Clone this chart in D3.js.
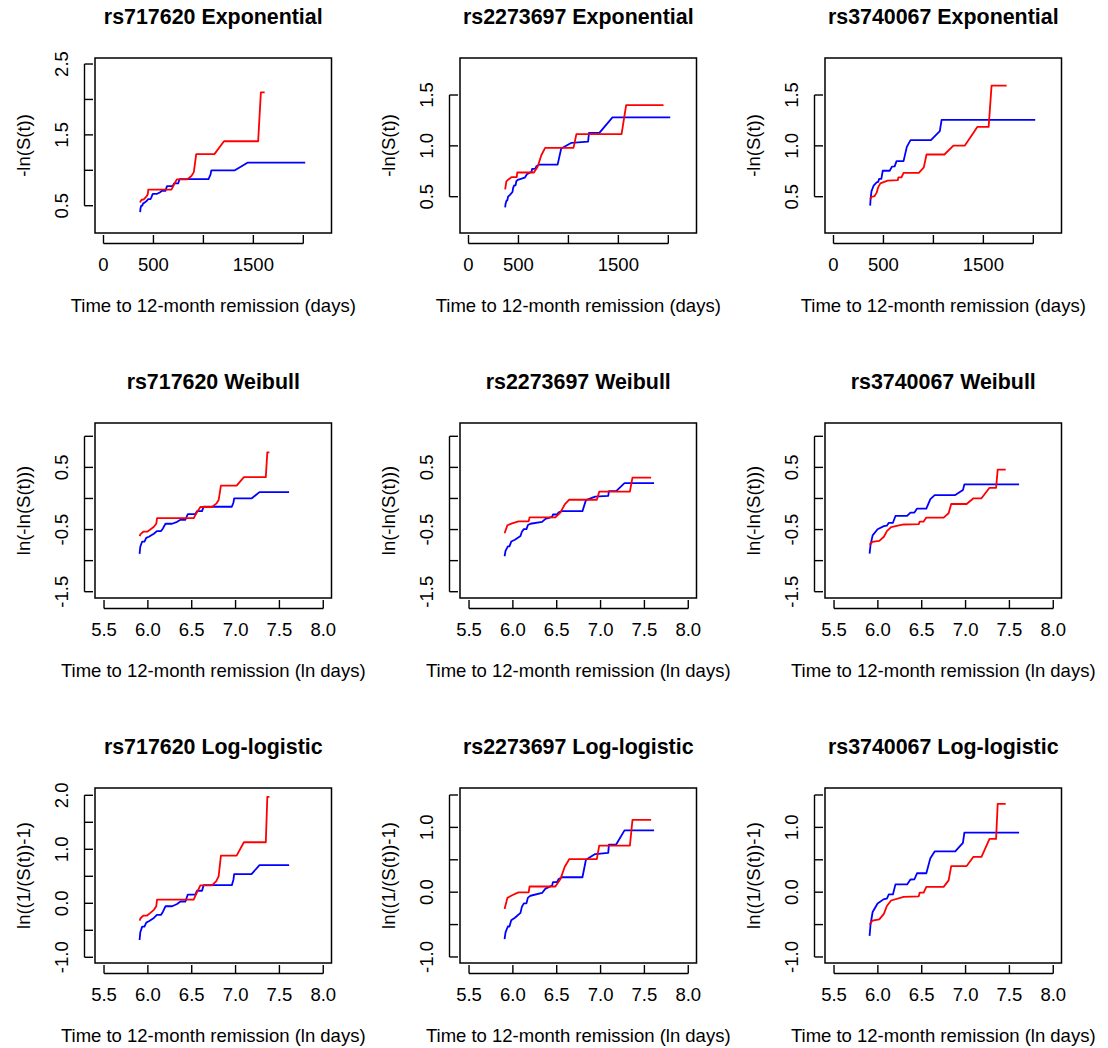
<!DOCTYPE html>
<html>
<head>
<meta charset="utf-8">
<script src="https://cdn.jsdelivr.net/npm/d3@7"></script>
<style>
  body { margin: 0; background: #fff; }
  text { font-family: "Liberation Sans", Arial, sans-serif; fill: #000; }
</style>
</head>
<body>
<div id="chart"></div>
<script>
// SNPs (rows of the figure are models, columns are SNPs)
const snps = ["rs717620", "rs2273697", "rs3740067"];
const models = ["Exponential", "Weibull", "Log-logistic"];

// Estimated curves: [time in days, -ln(S(t))]
const rs717620Blue = [[367,0.41],[370,0.46],[378,0.50],[388,0.50],[396,0.53],[408,0.54],[432,0.567],[447,0.592],[469,0.592],[479,0.618],[493,0.666],[532,0.666],[563,0.687],[585,0.71],[619,0.71],[636,0.777],[693,0.777],[706,0.816],[748,0.816],[762,0.875],[1051,0.875],[1071,0.938],[1079,1.0],[1315,1.0],[1441,1.107],[2019,1.107]];
const rs717620Red = [[367,0.546],[371,0.564],[383,0.586],[400,0.586],[415,0.608],[432,0.634],[444,0.666],[448,0.728],[680,0.728],[706,0.80],[734,0.872],[838,0.872],[880,0.92],[904,0.974],[928,1.228],[1110,1.228],[1206,1.41],[1548,1.41],[1575,2.10],[1613,2.10]];

const rs2273697Blue = [[367,0.395],[371,0.43],[381,0.463],[388,0.463],[396,0.50],[413,0.515],[440,0.546],[447,0.586],[457,0.611],[471,0.611],[479,0.652],[493,0.666],[563,0.687],[585,0.721],[631,0.745],[637,0.773],[668,0.773],[680,0.80],[706,0.815],[892,0.815],[928,0.974],[1031,1.03],[1197,1.042],[1206,1.127],[1310,1.127],[1441,1.28],[2019,1.28]];
const rs2273697Red = [[367,0.572],[379,0.65],[400,0.67],[430,0.692],[483,0.692],[488,0.738],[655,0.738],[693,0.797],[729,0.908],[767,0.98],[1051,0.98],[1080,1.115],[1532,1.115],[1578,1.40],[1952,1.40]];

const rs3740067Blue = [[367,0.412],[371,0.473],[380,0.552],[402,0.61],[432,0.641],[447,0.645],[457,0.676],[479,0.676],[493,0.755],[563,0.755],[585,0.796],[612,0.798],[631,0.85],[701,0.85],[734,0.99],[771,1.056],[975,1.056],[1064,1.144],[1082,1.255],[2019,1.255]];
const rs3740067Red = [[367,0.475],[379,0.497],[410,0.505],[432,0.54],[447,0.592],[469,0.631],[541,0.658],[643,0.662],[650,0.69],[680,0.69],[701,0.735],[854,0.735],[904,0.788],[931,0.915],[1110,0.915],[1200,1.003],[1315,1.003],[1441,1.187],[1553,1.187],[1582,1.592],[1733,1.592]];

const curves = {
  rs717620: [rs717620Blue, rs717620Red],
  rs2273697: [rs2273697Blue, rs2273697Red],
  rs3740067: [rs3740067Blue, rs3740067Red]
};
const curveColors = ["#0000ff", "#ff0000"];

// Axis ticks and the labels R kept
const dayTicks = [0, 500, 1000, 1500, 2000];
const dayTickLabels = ["0", "500", "", "1500", ""];
const lnDayTicks = [5.5, 6.0, 6.5, 7.0, 7.5, 8.0];
const lnDayTickLabels = ["5.5", "6.0", "6.5", "7.0", "7.5", "8.0"];
const expTicksA = [0.5, 1.0, 1.5, 2.0, 2.5];
const expTickLabelsA = ["0.5", "", "1.5", "", "2.5"];
const expTicksB = [0.5, 1.0, 1.5];
const expTickLabelsB = ["0.5", "1.0", "1.5"];
const weibTicks = [-1.5, -1.0, -0.5, 0, 0.5, 1.0];
const weibTickLabels = ["-1.5", "", "-0.5", "", "0.5", ""];
const llTicksA = [-1.0, -0.5, 0, 0.5, 1.0, 1.5, 2.0];
const llTickLabelsA = ["-1.0", "", "0.0", "", "1.0", "", "2.0"];
const llTicksB = [-1.0, -0.5, 0, 0.5, 1.0, 1.5];
const llTickLabelsB = ["-1.0", "", "0.0", "", "1.0", ""];

// per model: how a (t, H) point is shown, axis titles, limits
const modelSpec = {
  "Exponential": {
    fx: t => t, fy: h => h,
    xlab: "Time to 12-month remission (days)", ylab: "-ln(S(t))",
    xDomain: [-85, 2282], xTicks: dayTicks, xLabels: dayTickLabels,
    y: [
      { domain: [0.115, 2.585], ticks: expTicksA, labels: expTickLabelsA },
      { domain: [0.143, 1.864], ticks: expTicksB, labels: expTickLabelsB },
      { domain: [0.143, 1.864], ticks: expTicksB, labels: expTickLabelsB }
    ]
  },
  "Weibull": {
    fx: t => Math.log(t), fy: h => Math.log(h),
    xlab: "Time to 12-month remission (ln days)", ylab: "ln(-ln(S(t)))",
    xDomain: [5.397, 8.094], xTicks: lnDayTicks, xLabels: lnDayTickLabels,
    y: [0, 1, 2].map(() => ({ domain: [-1.601, 1.214], ticks: weibTicks, labels: weibTickLabels }))
  },
  "Log-logistic": {
    fx: t => Math.log(t), fy: h => Math.log(Math.exp(h) - 1),
    xlab: "Time to 12-month remission (ln days)", ylab: "ln((1/(S(t))-1)",
    xDomain: [5.397, 8.094], xTicks: lnDayTicks, xLabels: lnDayTickLabels,
    y: [
      { domain: [-1.106, 2.135], ticks: llTicksA, labels: llTickLabelsA },
      { domain: [-1.093, 1.608], ticks: llTicksB, labels: llTickLabelsB },
      { domain: [-1.093, 1.608], ticks: llTicksB, labels: llTickLabelsB }
    ]
  }
};

// layout
const width = 1108, height = 1048;
const colLeft = [95, 460, 825];
const rowTop = [58, 423, 788];
const boxW = 236.5, boxH = 175;

const svg = d3.select("#chart").append("svg")
  .attr("width", width)
  .attr("height", height);

models.forEach((model, r) => {
  const spec = modelSpec[model];
  snps.forEach((snp, c) => {
    const L = colLeft[c], T = rowTop[r], R = L + boxW, B = T + boxH;
    const ys = spec.y[c];
    const x = d3.scaleLinear().domain(spec.xDomain).range([L, R]);
    const y = d3.scaleLinear().domain(ys.domain).range([B, T]);
    const g = svg.append("g");

    // title
    g.append("text")
      .attr("x", (L + R) / 2).attr("y", T - 34)
      .attr("text-anchor", "middle")
      .style("font-size", "21.4px").style("font-weight", "bold")
      .text(snp + " " + model);

    // curves
    const line = d3.line().x(d => x(spec.fx(d[0]))).y(d => y(spec.fy(d[1])));
    curves[snp].forEach((pts, i) => {
      g.append("path")
        .attr("d", line(pts))
        .attr("fill", "none")
        .attr("stroke", curveColors[i])
        .attr("stroke-width", 1.8)
        .attr("stroke-linejoin", "round");
    });

    // box
    g.append("rect")
      .attr("x", L).attr("y", T).attr("width", boxW).attr("height", boxH)
      .attr("fill", "none").attr("stroke", "#000").attr("stroke-width", 1.5);

    // x axis (line set below the box, ticks pointing up)
    const xa = B + 10.5;
    const xt = spec.xTicks;
    g.append("line")
      .attr("x1", x(xt[0])).attr("x2", x(xt[xt.length - 1]))
      .attr("y1", xa).attr("y2", xa)
      .attr("stroke", "#000").attr("stroke-width", 1.4);
    xt.forEach((v, i) => {
      g.append("line")
        .attr("x1", x(v)).attr("x2", x(v))
        .attr("y1", xa).attr("y2", B + 2)
        .attr("stroke", "#000").attr("stroke-width", 1.4);
      if (spec.xLabels[i]) {
        g.append("text")
          .attr("x", x(v)).attr("y", B + 38)
          .attr("text-anchor", "middle")
          .style("font-size", "18.5px")
          .text(spec.xLabels[i]);
      }
    });
    g.append("text")
      .attr("x", (L + R) / 2).attr("y", B + 78.5)
      .attr("text-anchor", "middle")
      .style("font-size", "18.5px")
      .text(spec.xlab);

    // y axis
    const ya = L - 10.5;
    const yt = ys.ticks;
    g.append("line")
      .attr("x1", ya).attr("x2", ya)
      .attr("y1", y(yt[0])).attr("y2", y(yt[yt.length - 1]))
      .attr("stroke", "#000").attr("stroke-width", 1.4);
    yt.forEach((v, i) => {
      g.append("line")
        .attr("x1", ya).attr("x2", L - 2)
        .attr("y1", y(v)).attr("y2", y(v))
        .attr("stroke", "#000").attr("stroke-width", 1.4);
      if (ys.labels[i]) {
        g.append("text")
          .attr("transform", `translate(${L - 27},${y(v)}) rotate(-90)`)
          .attr("text-anchor", "middle")
          .style("font-size", "18.5px")
          .text(ys.labels[i]);
      }
    });
    g.append("text")
      .attr("transform", `translate(${L - 65.5},${(T + B) / 2}) rotate(-90)`)
      .attr("text-anchor", "middle")
      .style("font-size", "18.5px")
      .text(spec.ylab);
  });
});
</script>
</body>
</html>
